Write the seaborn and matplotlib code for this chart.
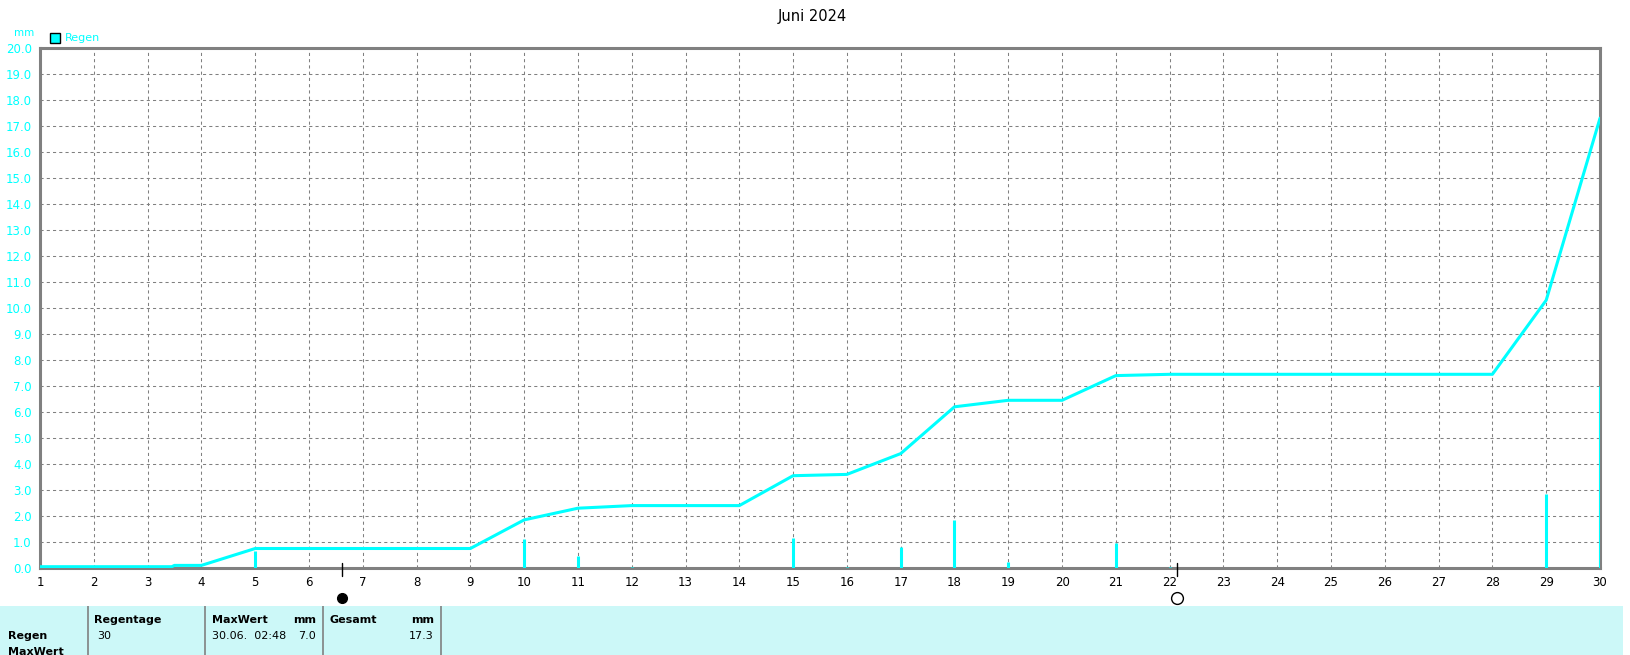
import matplotlib
matplotlib.use("Agg")
from matplotlib import pyplot as plt
from matplotlib import transforms
import seaborn as sb
import pandas as pd

# cumulative rain (mm) over the month
cum_days = [1, 2, 3, 3.45, 3.5, 4, 5, 6, 7, 8, 9, 10, 11, 11.5, 12, 13, 14, 15, 16, 17, 18, 19, 20,
            21, 22, 23, 24, 25, 26, 27, 28, 29, 30]
cum_mm = [0.05, 0.05, 0.05, 0.05, 0.1, 0.1, 0.75, 0.75, 0.75, 0.75, 0.75, 1.85, 2.3, 2.35, 2.4, 2.4, 2.4,
          3.55, 3.6, 4.4, 6.2, 6.45, 6.45, 7.4, 7.45, 7.45, 7.45, 7.45, 7.45, 7.45, 7.45, 10.3, 17.3]

# daily rain (mm)
rain_days = [5, 10, 11, 12, 15, 16, 17, 18, 19, 21, 22, 29, 30]
rain_mm = [0.65, 1.1, 0.45, 0.05, 1.15, 0.05, 0.8, 1.85, 0.25, 0.95, 0.05, 2.85, 7.0]

# moon phases (day of month, filled = new moon)
moon_days = [6.61, 22.13]
moon_filled = [True, False]

title = "Juni 2024"
day_labels = [str(d) for d in range(1, 31)]
mm_ticks = [i * 1.0 for i in range(21)]

CYAN = "#00FFFF"
GREY = "#808080"

sb.set_style("white")
plt.rcParams["font.family"] = ["DejaVu Sans"]
plt.rcParams["text.color"] = "black"

W, H = 1631, 655
fig = plt.figure(figsize=(W / 100, H / 100), dpi=100)
ax = fig.add_axes([40 / W, (H - 568) / H, 1560 / W, 520 / H])

df = pd.DataFrame({"day": cum_days, "mm": cum_mm})
sb.lineplot(data=df, x="day", y="mm", ax=ax, color=CYAN, lw=2.2, zorder=4)
ax.vlines(rain_days, 0, rain_mm, color=CYAN, lw=2.2, zorder=4)

ax.set_xlim(1, 30)
ax.set_ylim(0, 20)
ax.set_xticks(range(1, 31))
ax.set_xticklabels(day_labels, fontsize=8.5, color="black")
ax.set_yticks(mm_ticks)
ax.set_yticklabels([f"{v:.1f}" for v in mm_ticks], fontsize=8.5, color=CYAN)
ax.tick_params(axis="both", length=0, pad=6)
ax.set_xlabel("")
ax.set_ylabel("")
ax.grid(True, color=GREY, ls=(0, (3, 3)), lw=0.75)
for s in ax.spines.values():
    s.set_color(GREY)
    s.set_linewidth(2.2)

# moon phase markers below x axis
trans = transforms.blended_transform_factory(ax.transData, ax.transAxes)
for d, filled in zip(moon_days, moon_filled):
    ax.plot([d, d], [-0.016, 0.01], color="black", lw=1, transform=trans, clip_on=False, zorder=5)
    ax.plot(d, -0.058, marker="o", ms=7 if filled else 8.5, mfc="black" if filled else "white",
            mec="black", mew=1, transform=trans, clip_on=False)

fig.text(812 / W, 1 - 16 / H, title, ha="center", va="center", fontsize=10.5, color="black")
fig.text(14 / W, 1 - 33 / H, "mm", color=CYAN, fontsize=7.5, va="center")
fig.patches.append(plt.Rectangle((50 / W, 1 - 43 / H), 10 / W, 10 / H, transform=fig.transFigure,
                                 facecolor=CYAN, edgecolor="black", lw=1))
fig.text(65 / W, 1 - 38 / H, "Regen", color=CYAN, fontsize=8, va="center")

# summary table strip
tab = fig.add_axes([0, 0, 1623 / W, 49 / H])
tab.set_xlim(0, 1623)
tab.set_ylim(49, 0)
tab.set_facecolor("#CCF8F8")
tab.set_xticks([])
tab.set_yticks([])
for s in tab.spines.values():
    s.set_visible(False)
for x in [88, 205, 323, 441]:
    tab.axvline(x, color=GREY, lw=1.2)

bold = dict(fontsize=8, fontweight="bold", va="center", color="black")
norm = dict(fontsize=8, va="center", color="black")
tab.text(8, 30, "Regen", **bold)
tab.text(8, 46, "MaxWert", **bold)
tab.text(94, 14, "Regentage", **bold)
tab.text(97, 30, "30", **norm)
tab.text(212, 14, "MaxWert", **bold)
tab.text(316, 14, "mm", ha="right", **bold)
tab.text(212, 30, "30.06.  02:48", **norm)
tab.text(316, 30, "7.0", ha="right", **norm)
tab.text(330, 14, "Gesamt", **bold)
tab.text(434, 14, "mm", ha="right", **bold)
tab.text(434, 30, "17.3", ha="right", **norm)

fig.savefig("out.png", dpi=100)
